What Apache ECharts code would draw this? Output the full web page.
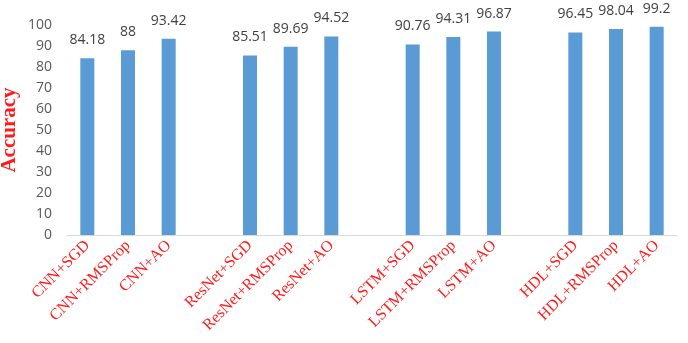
<!DOCTYPE html>
<html><head><meta charset="utf-8">
<script src="https://cdn.jsdelivr.net/npm/echarts@6/dist/echarts.min.js"></script>
<style>html,body{margin:0;padding:0;background:#fff}#c{width:688px;height:343px}</style>
</head><body><div id="c"></div>
<script>
const categories = ['CNN+SGD','CNN+RMSProp','CNN+AO','', 'ResNet+SGD','ResNet+RMSProp','ResNet+AO','', 'LSTM+SGD','LSTM+RMSProp','LSTM+AO','', 'HDL+SGD','HDL+RMSProp','HDL+AO'];
const accuracy = [84.18, 88, 93.42, null, 85.51, 89.69, 94.52, null, 90.76, 94.31, 96.87, null, 96.45, 98.04, 99.2];
const yTicks = {min: 0, max: 100, interval: 10};

const chart = echarts.init(document.getElementById('c'));
chart.setOption({
  animation: false,
  grid: {left: 67, right: 11, top: 25, bottom: 108, containLabel: false, outerBoundsMode: 'none'},
  xAxis: {
    type: 'category', data: categories,
    axisLine: {lineStyle: {color: '#d9d9d9', width: 1}},
    axisTick: {show: false},
    axisLabel: {interval: 0, rotate: 45, margin: 8, color: '#ff1a1a', fontFamily: 'Liberation Serif', fontSize: 16}
  },
  yAxis: {
    type: 'value', min: yTicks.min, max: yTicks.max, interval: yTicks.interval,
    splitLine: {show: false},
    axisLine: {show: false}, axisTick: {show: false},
    axisLabel: {color: '#595959', fontFamily: 'Open Sans', fontSize: 14, margin: 15},
    name: 'Accuracy', nameLocation: 'middle', nameGap: 47, nameMoveOverlap: false,
    nameTextStyle: {color: '#ff1a1a', fontFamily: 'Liberation Serif', fontWeight: 'bold', fontSize: 21}
  },
  series: [{
    type: 'bar', data: accuracy, barWidth: 14,
    itemStyle: {color: '#5b9bd5'},
    label: {show: true, position: 'top', distance: 11, color: '#404040', fontFamily: 'Open Sans', fontSize: 14}
  }]
});
</script></body></html>
